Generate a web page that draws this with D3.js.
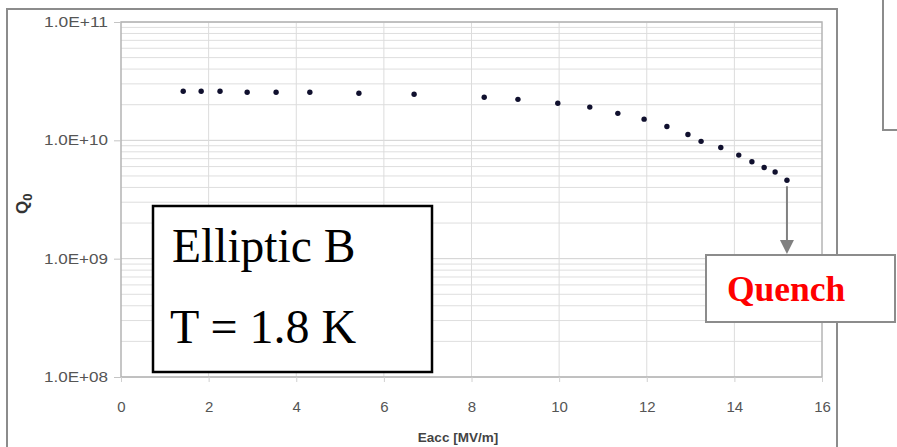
<!DOCTYPE html>
<html>
<head>
<meta charset="utf-8">
<script src="https://cdn.jsdelivr.net/npm/d3@7"></script>
<style>
  body { margin: 0; background: #fff; }
  svg { display: block; }
</style>
</head>
<body>
<svg id="chart" width="897" height="447"></svg>
<script>
// data
const eacc = [1.42, 1.83, 2.26, 2.88, 3.54, 4.31, 5.43, 6.69, 8.29, 9.06, 9.97, 10.70,
              11.34, 11.94, 12.46, 12.94, 13.24, 13.69, 14.10, 14.40, 14.68, 14.93, 15.20];
const q0 = [2.60e10, 2.60e10, 2.60e10, 2.55e10, 2.55e10, 2.55e10, 2.50e10, 2.45e10, 2.31e10,
            2.22e10, 2.06e10, 1.91e10, 1.69e10, 1.51e10, 1.31e10, 1.12e10, 9.8e9, 8.7e9,
            7.5e9, 6.6e9, 5.9e9, 5.4e9, 4.6e9];
const xTicks = [0, 2, 4, 6, 8, 10, 12, 14, 16];
const yTicks = [1e8, 1e9, 1e10, 1e11];
const yTickLabels = ["1.0E+08", "1.0E+09", "1.0E+10", "1.0E+11"];

const svg = d3.select("#chart");
const plot = { left: 121, right: 822, top: 22, bottom: 377 };
const axisColor = "#555";

const x = d3.scaleLinear().domain([0, 16]).range([plot.left, plot.right]);
const y = d3.scaleLog().domain([1e8, 1e11]).range([plot.bottom, plot.top]);

// outer chart frame
svg.append("rect")
    .attr("x", 7).attr("y", 9)
    .attr("width", 830).attr("height", 480)
    .attr("fill", "#fff")
    .attr("stroke", "#8c8c8c")
    .attr("stroke-width", 2);

// box cut off at top right
svg.append("rect")
    .attr("x", 883).attr("y", -10)
    .attr("width", 60).attr("height", 140)
    .attr("fill", "#fff")
    .attr("stroke", "#8c8c8c")
    .attr("stroke-width", 2);

// minor log gridlines
let minor = [];
for (let e = 8; e < 11; e++) {
    for (let m = 2; m <= 9; m++) minor.push(m * Math.pow(10, e));
}
svg.append("g").selectAll("line")
    .data(minor)
    .join("line")
    .attr("x1", plot.left).attr("x2", plot.right)
    .attr("y1", d => y(d)).attr("y2", d => y(d))
    .attr("stroke", "#dedede")
    .attr("stroke-width", 1);

svg.append("g").selectAll("line")
    .data(yTicks)
    .join("line")
    .attr("x1", plot.left).attr("x2", plot.right)
    .attr("y1", d => y(d)).attr("y2", d => y(d))
    .attr("stroke", "#d0d0d0")
    .attr("stroke-width", 1);

svg.append("g").selectAll("line")
    .data(xTicks.slice(1, -1))
    .join("line")
    .attr("x1", d => x(d)).attr("x2", d => x(d))
    .attr("y1", plot.top).attr("y2", plot.bottom)
    .attr("stroke", "#dcdcdc")
    .attr("stroke-width", 1);

// plot border
svg.append("rect")
    .attr("x", plot.left).attr("y", plot.top)
    .attr("width", plot.right - plot.left)
    .attr("height", plot.bottom - plot.top)
    .attr("fill", "none")
    .attr("stroke", "#b4b4b4")
    .attr("stroke-width", 1.5);

// axes
const yAxis = svg.append("g")
    .attr("transform", `translate(${plot.left},0)`)
    .call(d3.axisLeft(y).tickValues(yTicks)
        .tickFormat((d, i) => yTickLabels[i]).tickSize(7).tickPadding(6));
yAxis.select(".domain").remove();
yAxis.selectAll("line").attr("stroke", "#c4c4c4");
yAxis.selectAll("text")
    .attr("fill", axisColor)
    .style("font", "14px 'Liberation Sans', Arial, sans-serif")
    .attr("textLength", 64)
    .attr("lengthAdjust", "spacingAndGlyphs");

const xAxis = svg.append("g")
    .attr("transform", `translate(0,${plot.bottom})`)
    .call(d3.axisBottom(x).tickValues(xTicks).tickSize(5).tickPadding(19));
xAxis.select(".domain").remove();
xAxis.selectAll("line").attr("stroke", "#d0d0d0");
xAxis.selectAll("text")
    .attr("fill", axisColor)
    .style("font", "15px 'Liberation Sans', Arial, sans-serif");

// axis titles
svg.append("text")
    .attr("x", 458).attr("y", 442)
    .attr("text-anchor", "middle")
    .attr("fill", "#444")
    .style("font", "bold 13.5px 'Liberation Sans', Arial, sans-serif")
    .text("Eacc [MV/m]");

const yTitle = svg.append("text")
    .attr("transform", "translate(28,214) rotate(-90)")
    .attr("fill", "#333")
    .style("font", "bold 17px 'Liberation Sans', Arial, sans-serif");
yTitle.append("tspan").text("Q");
yTitle.append("tspan").attr("dy", 4).style("font-size", "13px").text("0");

// data points
const pts = eacc.map((e, i) => ({ e: e, q: q0[i] }));
svg.append("g").selectAll("circle")
    .data(pts)
    .join("circle")
    .attr("cx", d => x(d.e))
    .attr("cy", d => y(d.q))
    .attr("r", 2.7)
    .attr("fill", "#10102e");

// label box
svg.append("rect")
    .attr("x", 153).attr("y", 206)
    .attr("width", 279).attr("height", 166)
    .attr("fill", "#fff")
    .attr("stroke", "#000")
    .attr("stroke-width", 2.5);
svg.append("text")
    .attr("x", 172).attr("y", 262)
    .attr("fill", "#000")
    .style("font", "47.5px 'Liberation Serif', 'Times New Roman', serif")
    .text("Elliptic B");
svg.append("text")
    .attr("x", 170).attr("y", 343)
    .attr("fill", "#000")
    .style("font", "48px 'Liberation Serif', 'Times New Roman', serif")
    .text("T = 1.8 K");

// quench arrow
const last = pts[pts.length - 1];
const ax = x(last.e);
svg.append("line")
    .attr("x1", ax).attr("x2", ax)
    .attr("y1", y(last.q) + 6).attr("y2", 241)
    .attr("stroke", "#808080")
    .attr("stroke-width", 2);
svg.append("path")
    .attr("d", `M${ax - 7},240 L${ax + 7},240 L${ax},254 Z`)
    .attr("fill", "#808080");

svg.append("rect")
    .attr("x", 706).attr("y", 255)
    .attr("width", 189).attr("height", 67)
    .attr("fill", "#fff")
    .attr("stroke", "#8c8c8c")
    .attr("stroke-width", 2);
svg.append("text")
    .attr("x", 727).attr("y", 301)
    .attr("fill", "#ff0000")
    .style("font", "bold 35.5px 'Liberation Serif', 'Times New Roman', serif")
    .text("Quench");
</script>
</body>
</html>
